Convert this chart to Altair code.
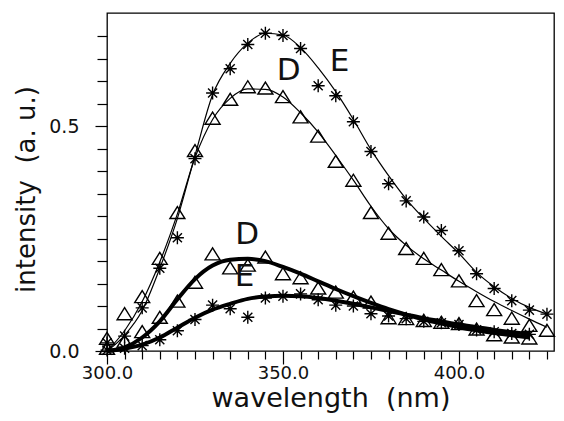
import altair as alt
import pandas as pd

# ---------------- data ----------------
wl_thin = [300, 305, 310, 315, 320, 325, 330, 335, 340, 345, 350, 355, 360,
           365, 370, 375, 380, 385, 390, 395, 400, 405, 410, 415, 420, 425]
wl_thick = [300, 305, 310, 315, 320, 325, 330, 335, 340, 345, 350, 355, 360,
            365, 370, 375, 380, 385, 390, 395, 400, 405, 410, 415, 420]

# measured points
e_thin_pts = [0.018, 0.033, 0.096, 0.184, 0.252, 0.428, 0.574, 0.628, 0.682, 0.707,
              0.702, 0.673, 0.590, 0.568, 0.510, 0.444, 0.372, 0.334, 0.298, 0.268,
              0.223, 0.172, 0.139, 0.112, 0.091, 0.082]
d_thin_pts = [0.028, 0.083, 0.121, 0.206, 0.308, 0.446, 0.518, 0.560, 0.588, 0.585,
              0.566, 0.521, 0.478, 0.422, 0.380, 0.308, 0.262, 0.228, 0.206, 0.181,
              0.156, 0.112, 0.092, 0.073, 0.057, 0.046]
d_thick_pts = [0.006, 0.022, 0.043, 0.075, 0.111, 0.153, 0.216, 0.185, 0.191, 0.209,
               0.172, 0.163, 0.140, 0.131, 0.120, 0.109, 0.074, 0.072, 0.068, 0.064,
               0.061, 0.049, 0.036, 0.031, 0.029]
e_thick_pts = [0.002, 0.006, 0.012, 0.025, 0.045, 0.070, 0.102, 0.094, 0.075, 0.118,
               0.122, 0.127, 0.114, 0.102, 0.100, 0.083, 0.078, 0.072, 0.066, 0.063,
               0.059, 0.047, 0.043, 0.039, 0.037]

# fitted curves
e_thin_curve = [0.000, 0.035, 0.090, 0.184, 0.295, 0.435, 0.570, 0.640, 0.685, 0.707,
                0.703, 0.675, 0.630, 0.577, 0.515, 0.448, 0.390, 0.338, 0.295, 0.255,
                0.217, 0.175, 0.143, 0.117, 0.097, 0.082]
d_thin_curve = [0.000, 0.045, 0.110, 0.198, 0.305, 0.430, 0.515, 0.562, 0.583, 0.582,
                0.565, 0.530, 0.487, 0.435, 0.380, 0.322, 0.272, 0.235, 0.205, 0.180,
                0.155, 0.132, 0.110, 0.090, 0.071, 0.053]
d_thick_curve = [0.000, 0.008, 0.030, 0.066, 0.115, 0.160, 0.190, 0.203, 0.205, 0.200,
                 0.187, 0.172, 0.155, 0.138, 0.122, 0.107, 0.093, 0.081, 0.070, 0.061,
                 0.053, 0.046, 0.040, 0.035, 0.030]
e_thick_curve = [0.000, 0.005, 0.014, 0.030, 0.052, 0.074, 0.092, 0.105, 0.116, 0.121,
                 0.123, 0.122, 0.118, 0.112, 0.105, 0.097, 0.089, 0.081, 0.073, 0.066,
                 0.059, 0.053, 0.047, 0.042, 0.038]

label_text = ["D", "E", "D", "E"]
label_wl = [351.6, 366.1, 339.8, 339.1]
label_val = [0.622, 0.642, 0.258, 0.164]

x_ticks = list(range(300, 430, 5))
y_ticks = [round(0.05 * i, 2) for i in range(15)]

# ---------------- frames ----------------
def frame(wl, vals, name):
    return pd.DataFrame({"wl": wl, "val": vals, "series": name})

thin_curves = pd.concat([frame(wl_thin, e_thin_curve, "E"), frame(wl_thin, d_thin_curve, "D")])
thick_curves = pd.concat([frame(wl_thick, d_thick_curve, "D"), frame(wl_thick, e_thick_curve, "E")])
stars = pd.concat([frame(wl_thin, e_thin_pts, "E thin"), frame(wl_thick, e_thick_pts, "E thick")])
tris = pd.concat([frame(wl_thin, d_thin_pts, "D thin"), frame(wl_thick, d_thick_pts, "D thick")])
labels = pd.DataFrame({"t": label_text, "wl": label_wl, "val": label_val})

FONT = "DejaVu Sans"
INK = "#111111"

xenc = alt.X(
    "wl:Q",
    scale=alt.Scale(domain=[300, 427.0], nice=False, zero=False),
    axis=alt.Axis(
        values=x_ticks,
        labelExpr="datum.value % 50 === 0 ? format(datum.value, '.1f') : ''",
        tickSize={"condition": {"test": "datum.value % 50 === 0", "value": 13}, "value": 8},
        tickColor="black", tickWidth=1.2, domain=False, grid=False,
        labelFont=FONT, labelFontSize=18, labelColor=INK,
        labelPadding=0, labelBaseline="top", labelFlush=False, labelOverlap=False,
        title="wavelength\u00a0\u00a0(nm)", titleFont=FONT, titleFontSize=27,
        titleFontWeight="normal", titleColor=INK, titleY=55, titleBaseline="alphabetic",
    ),
)
yenc = alt.Y(
    "val:Q",
    scale=alt.Scale(domain=[0, 0.752], nice=False, zero=False),
    axis=alt.Axis(
        values=y_ticks,
        labelExpr="(datum.value === 0 || datum.value === 0.5) ? format(datum.value, '.1f') : ''",
        tickSize={"condition": {"test": "datum.value === 0 || datum.value === 0.5", "value": 12}, "value": 10},
        tickColor="black", tickWidth=1.2, domain=False, grid=False,
        labelFont=FONT, labelFontSize=19, labelColor=INK,
        labelPadding=16, labelFlush=False, labelOverlap=False,
        title="intensity\u00a0\u00a0(a. u.)", titleFont=FONT, titleFontSize=26,
        titleFontWeight="normal", titleColor=INK, titleX=-73, titleY=176,
        titleBaseline="alphabetic", titleAlign="center", titleAngle=270,
    ),
)

thin = alt.Chart(thin_curves).mark_line(color="black", strokeWidth=1.2, interpolate="monotone").encode(
    x=xenc, y=yenc, detail="series:N")
thick = alt.Chart(thick_curves).mark_line(color="black", strokeWidth=4, interpolate="monotone").encode(
    x=xenc, y=yenc, detail="series:N")
star_pts = alt.Chart(stars).mark_point(
    shape="M-1,0L1,0M0,-1L0,1M-0.7,-0.7L0.7,0.7M-0.7,0.7L0.7,-0.7",
    size=169, filled=False, color="black", strokeWidth=1.4, opacity=1,
).encode(x=xenc, y=yenc)
tri_pts = alt.Chart(tris).mark_point(
    shape="M-1,0.8L1,0.8L0,-0.8Z",
    size=225, filled=False, color="black", strokeWidth=1.4, opacity=1,
).encode(x=xenc, y=yenc)
texts = alt.Chart(labels).mark_text(
    font=FONT, fontSize=31, color=INK, align="center", baseline="middle"
).encode(x=xenc, y=yenc, text="t:N")

chart = alt.layer(thin, thick, star_pts, tri_pts, texts).properties(
    width=447, height=338,
    padding={"left": 99, "top": 5, "right": 2, "bottom": 62},
    autosize=alt.AutoSizeParams(type="none"),
).configure_view(stroke="black", strokeWidth=1.3)

chart.save("out.html", embed_options={"renderer": "svg", "actions": False})
